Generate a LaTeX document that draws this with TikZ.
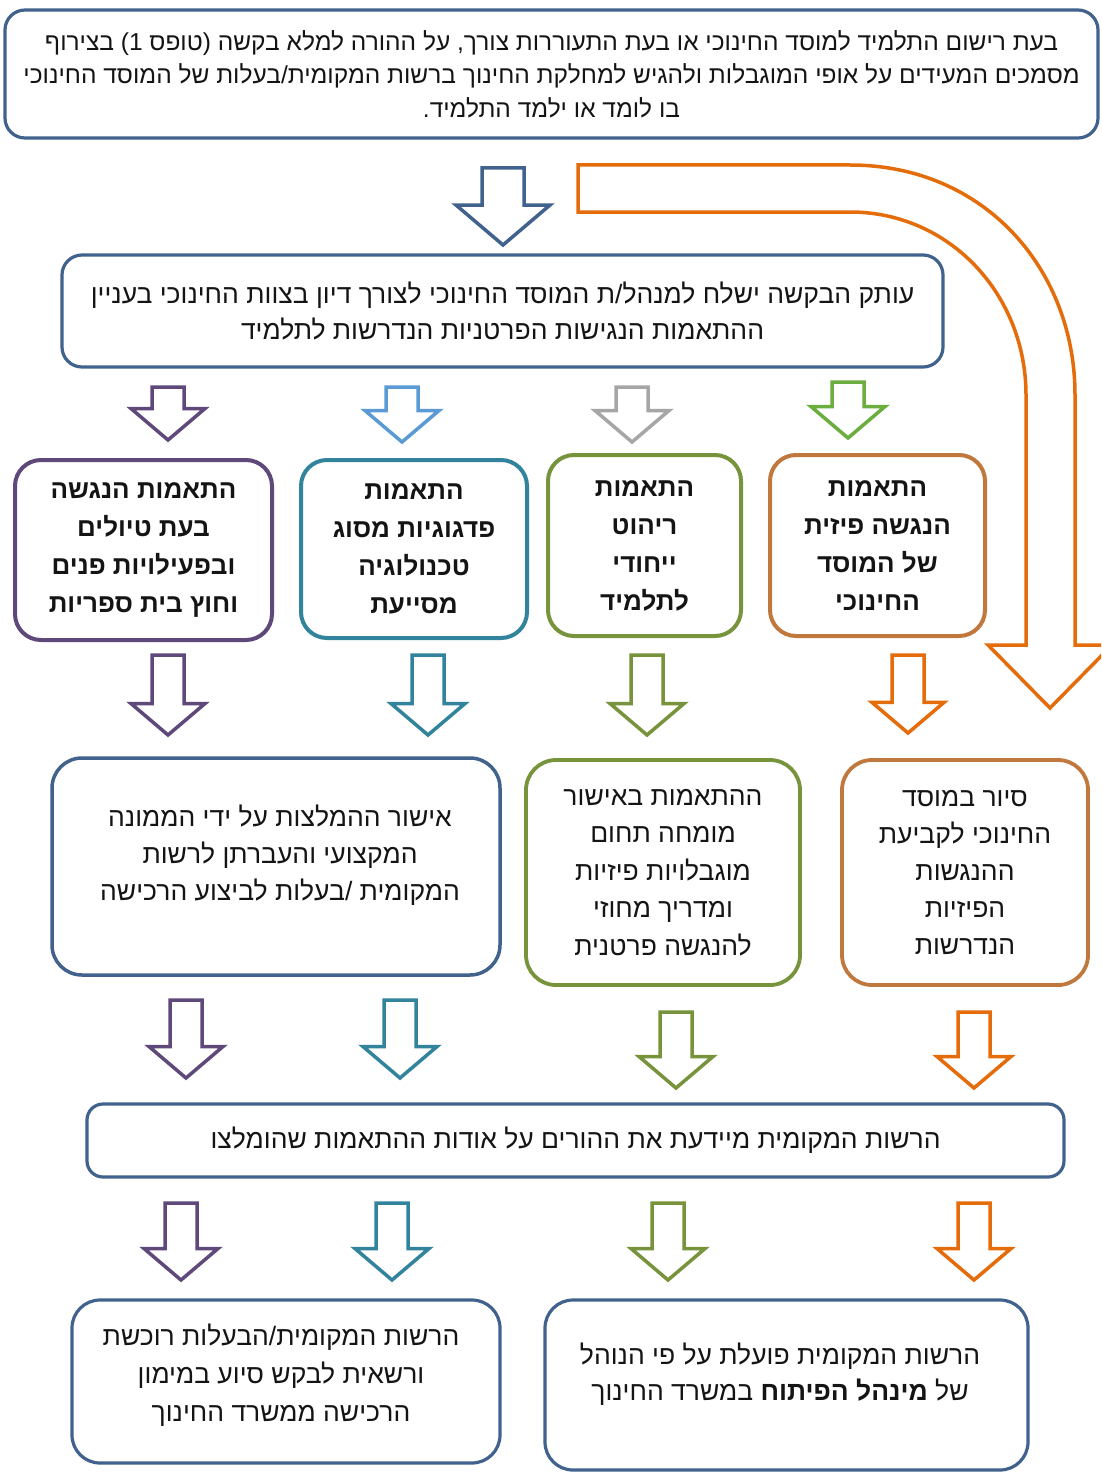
\documentclass[tikz,border=0pt]{standalone}
\usepackage{fontspec}
\TeXXeTstate=1
\newfontfamily\hebfont[Script=Hebrew]{Liberation Sans}
\newcommand\hl[1]{\beginR #1\endR}
\definecolor{bluegrey}{HTML}{41628C}
\definecolor{purp}{HTML}{5F497A}
\definecolor{lblue}{HTML}{5B9BD5}
\definecolor{greyar}{HTML}{A6A6A6}
\definecolor{brgreen}{HTML}{6BAE3F}
\definecolor{teal}{HTML}{31849B}
\definecolor{olive}{HTML}{77933C}
\definecolor{orng}{HTML}{E46C0A}
\definecolor{brorng}{HTML}{C0783C}
\definecolor{txt}{HTML}{141414}
\newcommand\blockdown[6]{% x, ytop, ytip, colour, half shaft, half head
  \draw[arrowline, draw=#4] ({#1-#5},#2) -- ({#1+#5},#2) -- ({#1+#5},{#3-(#6*0.85)}) -- ({#1+#6},{#3-(#6*0.85)}) -- (#1,#3) -- ({#1-#6},{#3-(#6*0.85)}) -- ({#1-#5},{#3-(#6*0.85)}) -- cycle;}
\begin{document}
\begin{tikzpicture}[x=1pt,y=-1pt,
  box/.style={draw=#1, line width=3.2pt, rounded corners=20pt, fill=white, align=center,
    font=\hebfont\fontsize{26.5}{36}\selectfont, text=txt, inner sep=0pt},
  colbox/.style={box=#1, line width=4pt, rounded corners=26pt,
    font=\hebfont\bfseries\fontsize{26}{38}\selectfont},
  txtnode/.style={align=center, font=\hebfont\fontsize{26.5}{37}\selectfont, text=txt, inner sep=0pt},
  arrowline/.style={line width=3.5pt, line join=miter, fill=white}]
\useasboundingbox (0,0) rectangle (1101,1474);
\fill[white] (0,0) rectangle (1101,1474);
\clip (0,0) rectangle (1101,1474);

% top box
\node[box=bluegrey, minimum width=1093pt, minimum height=128pt, font=\hebfont\fontsize{24.5}{33.5}\selectfont] (req) at (551.5,74)
 {\hl{בעת רישום התלמיד למוסד החינוכי או בעת התעוררות צורך, על ההורה למלא בקשה (טופס 1) בצירוף}\\
  \hl{מסמכים המעידים על אופי המוגבלות ולהגיש למחלקת החינוך ברשות המקומית/בעלות של המוסד החינוכי}\\
  \hl{בו לומד או ילמד התלמיד.}};

% bent orange arrow
\draw[arrowline, draw=orng] (578,165) -- (850,165) .. controls (985,165) and (1075,270) .. (1075,395)
  -- (1075,645) -- (1112,645) -- (1050,708) -- (988,645) -- (1026,645) -- (1026,395)
  .. controls (1026,295) and (950,212) .. (850,212) -- (578,212) -- cycle;

% big blue arrow
\blockdown{503}{168}{245}{bluegrey}{21}{47}

% second box
\node[box=bluegrey, minimum width=881pt, minimum height=112pt] (send) at (502.5,311)
 {\hl{עותק הבקשה ישלח למנהל/ת המוסד החינוכי לצורך דיון בצוות החינוכי בעניין}\\
  \hl{ההתאמות הנגישות הפרטניות הנדרשות לתלמיד}};

% row 1 arrows
\blockdown{168}{387}{440}{purp}{16}{37}
\blockdown{402}{387}{442}{lblue}{16}{37}
\blockdown{632}{387}{442}{greyar}{16}{37}
\blockdown{848}{382}{438}{brgreen}{16}{37}

% column boxes
\node[colbox=purp, minimum width=257pt, minimum height=180pt] (c1) at (143.5,550)
 {\hl{התאמות הנגשה}\\ \hl{בעת טיולים}\\ \hl{ובפעילויות פנים}\\ \hl{וחוץ בית ספריות}};
\node[colbox=teal, minimum width=226pt, minimum height=178pt] (c2) at (414,549)
 {\hl{התאמות}\\ \hl{פדגוגיות מסוג}\\ \hl{טכנולוגיה}\\ \hl{מסייעת}};
\node[colbox=olive, minimum width=193pt, minimum height=181pt] (c3) at (644.5,545.5)
 {\hl{התאמות}\\ \hl{ריהוט}\\ \hl{ייחודי}\\ \hl{לתלמיד}};
\node[colbox=brorng, minimum width=215pt, minimum height=181pt] (c4) at (877.5,545.5)
 {\hl{התאמות}\\ \hl{הנגשה פיזית}\\ \hl{של המוסד}\\ \hl{החינוכי}};

% row 2 arrows
\blockdown{168}{655}{735}{purp}{16}{37}
\blockdown{428}{655}{735}{teal}{16}{37}
\blockdown{647}{655}{735}{olive}{16}{37}
\blockdown{908}{655}{733}{orng}{16}{36}

% middle boxes
\node[box=bluegrey, line width=3.5pt, rounded corners=30pt, minimum width=448pt, minimum height=217pt] (appr) at (276,866.5) {};
\node[txtnode] (apprt) at (280,855)
 {\hl{אישור ההמלצות על ידי הממונה}\\ \hl{המקצועי והעברתן  לרשות}\\ \hl{המקומית /בעלות לביצוע הרכישה}};
\node[box=olive, line width=3.8pt, rounded corners=30pt, minimum width=274pt, minimum height=225pt, font=\hebfont\fontsize{26.5}{37.5}\selectfont] (expert) at (663,872.5)
 {\hl{ההתאמות באישור}\\ \hl{מומחה תחום}\\ \hl{מוגבלויות פיזיות}\\ \hl{ומדריך מחוזי}\\ \hl{להנגשה פרטנית}};
\node[box=brorng, line width=3.8pt, rounded corners=30pt, minimum width=246pt, minimum height=225pt, font=\hebfont\fontsize{26.5}{37}\selectfont] (tour) at (965,872.5)
 {\hl{סיור במוסד}\\ \hl{החינוכי לקביעת}\\ \hl{ההנגשות}\\ \hl{הפיזיות}\\ \hl{הנדרשות}};

% row 3 arrows
\blockdown{186}{1000}{1078}{purp}{16}{37}
\blockdown{400}{1000}{1078}{teal}{16}{37}
\blockdown{676}{1012}{1088}{olive}{16}{37}
\blockdown{974}{1012}{1088}{orng}{16}{37}

% inform box
\node[box=bluegrey, rounded corners=16pt, minimum width=977pt, minimum height=73pt] (inform) at (575.5,1140.5)
 {\hl{הרשות המקומית מיידעת את ההורים על אודות ההתאמות שהומלצו}};

% row 4 arrows
\blockdown{181}{1203}{1280}{purp}{16}{37}
\blockdown{392}{1203}{1280}{teal}{16}{37}
\blockdown{668}{1203}{1280}{olive}{16}{37}
\blockdown{974}{1203}{1280}{orng}{16}{37}

% bottom boxes
\node[box=bluegrey, rounded corners=28pt, minimum width=428pt, minimum height=163pt] (buy) at (286,1381.5) {};
\node[txtnode, font=\hebfont\fontsize{26.5}{38}\selectfont] (buyt) at (281,1375)
 {\hl{הרשות המקומית/הבעלות רוכשת}\\ \hl{ורשאית לבקש סיוע במימון}\\ \hl{הרכישה ממשרד החינוך}};
\node[box=bluegrey, rounded corners=28pt, minimum width=483pt, minimum height=170pt] (dev) at (786.5,1385) {};
\node[txtnode, font=\hebfont\fontsize{26.5}{36}\selectfont] (devt) at (780,1374)
 {\hl{הרשות המקומית פועלת על פי הנוהל}\\ \hl{של \textbf{מינהל הפיתוח} במשרד החינוך}};
\end{tikzpicture}
\end{document}
